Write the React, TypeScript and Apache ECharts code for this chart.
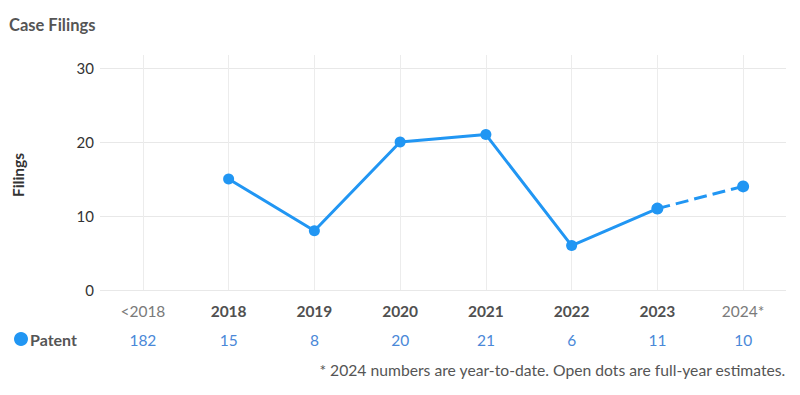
import React, { useEffect, useRef } from "react";
import * as echarts from "echarts";

const categories = ["<2018", "2018", "2019", "2020", "2021", "2022", "2023", "2024*"];
const filings: (number | null)[] = [null, 15, 8, 20, 21, 6, 11, null];
const estimate: (number | null)[] = [null, null, null, null, null, null, 11, 14];
const tableCounts = ["182", "15", "8", "20", "21", "6", "11", "10"];
const yTicks = [0, 10, 20, 30];
const seriesName = "Patent";
const footnote = "* 2024 numbers are year-to-date. Open dots are full-year estimates.";

const BLUE = "#2196f3";
const FONT = "Lato";

const GRID_LEFT = 92;
const GRID_RIGHT = 6;
const CHART_W = 784;
const HALF_BAND = (CHART_W - GRID_LEFT - GRID_RIGHT) / categories.length / 2;

export default function App() {
  const ref = useRef<HTMLDivElement>(null);
  useEffect(() => {
    const chart = echarts.init(ref.current!, undefined, { renderer: "svg" });
    chart.setOption({
      animation: false,
      textStyle: { fontFamily: FONT },
      title: {
        text: "Case Filings",
        left: -4,
        top: 3,
        textStyle: { fontSize: 16.5, fontWeight: "bold", color: "#555", fontFamily: FONT },
      },
      legend: {
        data: [seriesName],
        left: 1,
        top: 318,
        icon: "circle",
        itemWidth: 14,
        itemHeight: 14,
        itemGap: 4,
        textStyle: { fontSize: 16, fontWeight: "bold", color: "#555", fontFamily: FONT, padding: [0, 0, 0, -3] },
      },
      grid: [
        { left: GRID_LEFT, right: GRID_RIGHT, top: 60, bottom: 97, outerBoundsMode: "none", containLabel: false },
        {
          left: GRID_LEFT + HALF_BAND,
          right: GRID_RIGHT + HALF_BAND,
          top: 47,
          bottom: 97,
          outerBoundsMode: "none",
          containLabel: false,
        },
      ],
      xAxis: [
        {
          type: "category",
          gridIndex: 0,
          data: categories,
          boundaryGap: true,
          axisLine: { show: false },
          axisTick: { show: false },
          splitLine: { show: false },
          axisLabel: {
            margin: 13,
            formatter: (v: string, i: number) =>
              i === 0 || i === categories.length - 1 ? `{l|${v}}` : `{b|${v}}`,
            rich: {
              l: { fontSize: 15.5, color: "#7a7a7a", fontFamily: FONT },
              b: { fontSize: 15.5, color: "#505050", fontWeight: "bold", fontFamily: FONT },
            },
          },
        },
        {
          type: "category",
          gridIndex: 0,
          data: tableCounts,
          position: "bottom",
          offset: 29,
          boundaryGap: true,
          axisLine: { show: false },
          axisTick: { show: false },
          splitLine: { show: false },
          axisLabel: { margin: 13, fontSize: 15.5, color: "#4a88d8", fontFamily: FONT },
        },
        {
          type: "category",
          gridIndex: 1,
          data: categories,
          boundaryGap: false,
          axisLine: { show: false },
          axisTick: { show: false },
          axisLabel: { show: false },
          splitLine: { show: true, interval: 0, lineStyle: { color: "#ececec", width: 1 } },
        },
      ],
      yAxis: [
        {
          type: "value",
          gridIndex: 0,
          min: yTicks[0],
          max: yTicks[yTicks.length - 1],
          interval: 10,
          name: "Filings",
          nameLocation: "middle",
          nameGap: 74,
          nameTextStyle: { fontSize: 15.5, fontWeight: "bold", color: "#333", fontFamily: FONT, padding: [0, 0, 0, 8] },
          axisLine: { show: false },
          axisTick: { show: false },
          axisLabel: { margin: 6, fontSize: 15, color: "#333", fontFamily: FONT },
          splitLine: { lineStyle: { color: "#e8e8e8", width: 1 } },
        },
        {
          type: "value",
          gridIndex: 1,
          show: false,
        },
      ],
      graphic: [
        {
          type: "text",
          right: 6,
          top: 354,
          style: { text: footnote, fontSize: 15.7, fill: "#555", fontFamily: FONT },
        },
      ],
      series: [
        {
          name: seriesName,
          type: "line",
          data: filings,
          xAxisIndex: 0,
          yAxisIndex: 0,
          symbol: "circle",
          symbolSize: 11,
          itemStyle: { color: BLUE },
          lineStyle: { color: BLUE, width: 3 },
          z: 3,
        },
        {
          name: seriesName,
          type: "line",
          data: estimate,
          xAxisIndex: 0,
          yAxisIndex: 0,
          symbol: "circle",
          symbolSize: 12,
          itemStyle: { color: BLUE },
          lineStyle: { color: BLUE, width: 3, type: [13, 6] },
          z: 3,
        },
      ],
    });
    return () => chart.dispose();
  }, []);
  return <div ref={ref} style={{ width: CHART_W, height: 379 }} />;
}
